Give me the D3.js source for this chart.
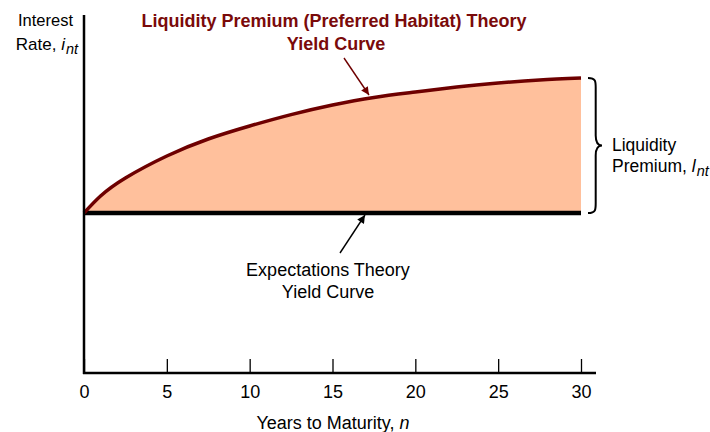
<!DOCTYPE html>
<html><head><meta charset="utf-8">
<script src="https://cdn.jsdelivr.net/npm/d3@7"></script>
<style>body{margin:0;background:#fff}text{font-family:"Liberation Sans",Arial,sans-serif}</style>
</head><body><svg id="c" width="710" height="432"></svg>
<script>
const years = [0, 1, 2.5, 5, 7.5, 10, 12.5, 15, 17.5, 20, 22.5, 25, 27.5, 30];
const liquidityYield = [4.0, 4.425, 4.875, 5.425, 5.85, 6.175, 6.46, 6.7, 6.89, 7.025, 7.15, 7.25, 7.325, 7.375];
const expectationsYield = [4.0, 4.0, 4.0, 4.0, 4.0, 4.0, 4.0, 4.0, 4.0, 4.0, 4.0, 4.0, 4.0, 4.0];
const xTicks = [0, 5, 10, 15, 20, 25, 30];

const svg = d3.select("#c");
const x = d3.scaleLinear().domain([0, 30]).range([84, 581]);
const y = d3.scaleLinear().domain([0, 8.9]).range([373, 17]);

const data = years.map((n, i) => ({n, l: liquidityYield[i], e: expectationsYield[i]}));
const curve = d3.curveNatural;

// filled premium area
svg.append("path").datum(data)
  .attr("fill", "#FFC09C")
  .attr("d", d3.area().x(d => x(d.n)).y0(d => y(d.e)).y1(d => y(d.l)).curve(curve));

// expectations line
svg.append("path").datum(data)
  .attr("fill", "none").attr("stroke", "#000").attr("stroke-width", 4.5)
  .attr("d", d3.line().x(d => x(d.n)).y(d => y(d.e)));

// liquidity curve
svg.append("path").datum(data)
  .attr("fill", "none").attr("stroke", "#6E0000").attr("stroke-width", 3.5)
  .attr("d", d3.line().x(d => x(d.n)).y(d => y(d.l)).curve(curve));

// axes
const xAxis = d3.axisBottom(x).tickValues(xTicks).tickSize(0).tickPadding(12);
const gx = svg.append("g").attr("transform", `translate(0,${y(0)})`).call(xAxis);
gx.select(".domain").remove();
gx.selectAll("text").attr("font-size", 18).attr("fill", "#000").attr("font-family", "Liberation Sans, Arial, sans-serif");
gx.selectAll(".tick").append("line").attr("y1", -14).attr("y2", 0).attr("stroke", "#000").attr("stroke-width", 1.3);

svg.append("line").attr("x1", 83).attr("x2", 596).attr("y1", y(0)).attr("y2", y(0)).attr("stroke", "#000").attr("stroke-width", 2.5);
svg.append("line").attr("x1", 84).attr("x2", 84).attr("y1", 15).attr("y2", y(0) + 1).attr("stroke", "#000").attr("stroke-width", 2.5);

// x axis title
const xt = svg.append("text").attr("x", 333).attr("y", 429).attr("text-anchor", "middle").attr("font-size", 18);
xt.append("tspan").text("Years to Maturity, ");
xt.append("tspan").attr("font-style", "italic").text("n");

// y axis title
svg.append("text").attr("x", 73).attr("y", 26).attr("text-anchor", "end").attr("font-size", 16.5).text("Interest");
const yt = svg.append("text").attr("x", 78).attr("y", 50).attr("text-anchor", "end").attr("font-size", 17);
yt.append("tspan").text("Rate, ");
yt.append("tspan").attr("font-style", "italic").text("i");
yt.append("tspan").attr("font-style", "italic").attr("font-size", 14.5).attr("dx", 1).attr("dy", 4).text("nt");

// title
const red = "#7A0A0A";
svg.append("text").attr("x", 334).attr("y", 27).attr("text-anchor", "middle").attr("font-size", 18).attr("font-weight", "bold").attr("fill", red).text("Liquidity Premium (Preferred Habitat) Theory");
svg.append("text").attr("x", 336).attr("y", 50).attr("text-anchor", "middle").attr("font-size", 18).attr("font-weight", "bold").attr("fill", red).text("Yield Curve");

// arrows
const defs = svg.append("defs");
function marker(id, col) {
  defs.append("marker").attr("id", id).attr("viewBox", "0 0 10 10").attr("refX", 10).attr("refY", 5)
    .attr("markerWidth", 12).attr("markerHeight", 8).attr("markerUnits", "userSpaceOnUse").attr("orient", "auto")
    .append("path").attr("d", "M0,0 L10,5 L0,10 Z").attr("fill", col);
}
marker("ar", "#6E0000");
marker("ab", "#000");
svg.append("line").attr("x1", 344).attr("y1", 58).attr("x2", 369).attr("y2", 95).attr("stroke", "#6E0000").attr("stroke-width", 1.4).attr("marker-end", "url(#ar)");
svg.append("line").attr("x1", 340).attr("y1", 253).attr("x2", 365).attr("y2", 215).attr("stroke", "#000").attr("stroke-width", 1.4).attr("marker-end", "url(#ab)");

svg.append("text").attr("x", 328).attr("y", 276).attr("text-anchor", "middle").attr("font-size", 18).text("Expectations Theory");
svg.append("text").attr("x", 328).attr("y", 298).attr("text-anchor", "middle").attr("font-size", 18).text("Yield Curve");

// brace
const bx = 588, bTop = y(liquidityYield[liquidityYield.length - 1]), bBot = y(expectationsYield[0]), bMid = (bTop + bBot) / 2, w = 14;
const bp = `M${bx},${bTop} C${bx + w * 0.6},${bTop} ${bx + w * 0.55},${bTop + 4} ${bx + w * 0.55},${bTop + 12}
 L${bx + w * 0.55},${bMid - 10} C${bx + w * 0.55},${bMid - 3} ${bx + w * 0.7},${bMid} ${bx + w},${bMid}
 C${bx + w * 0.7},${bMid} ${bx + w * 0.55},${bMid + 3} ${bx + w * 0.55},${bMid + 10}
 L${bx + w * 0.55},${bBot - 12} C${bx + w * 0.55},${bBot - 4} ${bx + w * 0.6},${bBot} ${bx},${bBot}`;
svg.append("path").attr("d", bp).attr("fill", "none").attr("stroke", "#000").attr("stroke-width", 2);

svg.append("text").attr("x", 612).attr("y", 151).attr("font-size", 17.5).text("Liquidity");
const pt = svg.append("text").attr("x", 612).attr("y", 172).attr("font-size", 17.5);
pt.append("tspan").text("Premium, ");
pt.append("tspan").attr("font-style", "italic").text("l");
pt.append("tspan").attr("font-style", "italic").attr("font-size", 14.5).attr("dx", 1).attr("dy", 4).text("nt");
</script></body></html>
